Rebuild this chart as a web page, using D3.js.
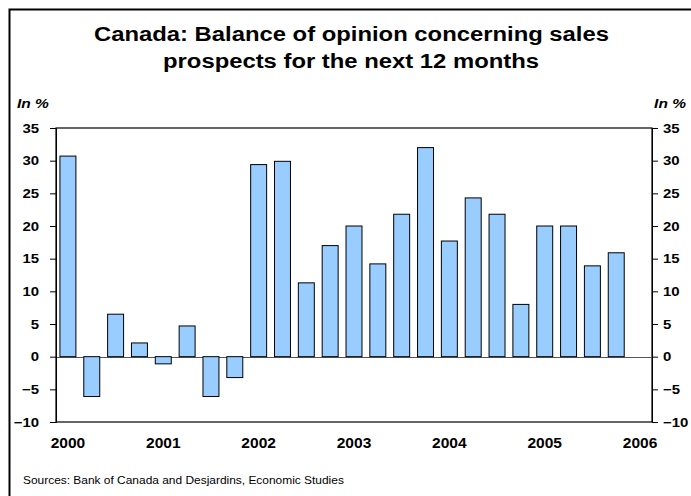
<!DOCTYPE html>
<html>
<head>
<meta charset="utf-8">
<script src="https://cdn.jsdelivr.net/npm/d3@7"></script>
<style>
  html, body { margin: 0; padding: 0; background: #fff; }
  svg { display: block; font-family: Arial, "Liberation Sans", sans-serif; }
</style>
</head>
<body>
<svg id="chart" width="691" height="496"></svg>
<script>
// Quarterly balance of opinion, 2000 Q1 to 2005 Q4 (the 2006 Q1 slot is left empty)
const quarters = [
  "2000Q1","2000Q2","2000Q3","2000Q4",
  "2001Q1","2001Q2","2001Q3","2001Q4",
  "2002Q1","2002Q2","2002Q3","2002Q4",
  "2003Q1","2003Q2","2003Q3","2003Q4",
  "2004Q1","2004Q2","2004Q3","2004Q4",
  "2005Q1","2005Q2","2005Q3","2005Q4",
  "2006Q1"
];
const balance = [
  30.7, -6.1, 6.5, 2.1,
  -1.1, 4.7, -6.1, -3.2,
  29.4, 29.9, 11.3, 17.0,
  20.0, 14.2, 21.8, 32.0,
  17.7, 24.3, 21.8, 8.0,
  20.0, 20.0, 13.9, 15.9
];
const yearLabels = ["2000","2001","2002","2003","2004","2005","2006"];
const yTicks = [-10, -5, 0, 5, 10, 15, 20, 25, 30, 35];

const svg = d3.select("#chart");
const plot = { left: 56, right: 652, top: 128, bottom: 422 };

// Widen a text element horizontally around its anchor x
function widen(sel, sx) {
  sel.each(function () {
    const t = d3.select(this);
    const ax = +t.attr("x") || 0;
    t.attr("transform", `translate(${ax},0) scale(${sx},1) translate(${-ax},0)`);
  });
}

// Outer frame
svg.append("rect")
  .attr("x", 9.5).attr("y", 9.5)
  .attr("width", 700).attr("height", 500)
  .attr("fill", "none").attr("stroke", "#000").attr("stroke-width", 2);

// Title
const title = svg.append("text")
  .attr("font-size", 20).attr("font-weight", "bold").attr("fill", "#000");
title.append("tspan").attr("x", 94).attr("y", 41)
  .attr("textLength", 515).attr("lengthAdjust", "spacingAndGlyphs")
  .text("Canada: Balance of opinion concerning sales");
title.append("tspan").attr("x", 163).attr("y", 68)
  .attr("textLength", 376).attr("lengthAdjust", "spacingAndGlyphs")
  .text("prospects for the next 12 months");

// Unit labels
svg.append("text").attr("x", 17).attr("y", 108)
  .attr("font-size", 13.5).attr("font-weight", "bold").attr("font-style", "italic")
  .text("In %").call(widen, 1.15);
svg.append("text").attr("x", 686).attr("y", 108).attr("text-anchor", "end")
  .attr("font-size", 13.5).attr("font-weight", "bold").attr("font-style", "italic")
  .text("In %").call(widen, 1.15);

const x = d3.scaleBand().domain(quarters).range([plot.left, plot.right]).paddingInner(0.33).paddingOuter(0.165);
const y = d3.scaleLinear().domain([-10, 35]).range([plot.bottom, plot.top]);

// Plot frame
svg.append("rect")
  .attr("x", plot.left).attr("y", plot.top)
  .attr("width", plot.right - plot.left).attr("height", plot.bottom - plot.top)
  .attr("fill", "#fff").attr("stroke", "#000").attr("stroke-width", 1.2);

// Zero line
svg.append("line")
  .attr("x1", plot.left).attr("x2", plot.right)
  .attr("y1", Math.round(y(0)) + 0.5).attr("y2", Math.round(y(0)) + 0.5)
  .attr("stroke", "#555").attr("stroke-width", 1);

// Bars
svg.append("g").selectAll("rect")
  .data(balance)
  .join("rect")
  .attr("x", (d, i) => x(quarters[i]))
  .attr("width", x.bandwidth())
  .attr("y", d => y(Math.max(0, d)))
  .attr("height", d => Math.abs(y(d) - y(0)))
  .attr("fill", "#99ccff")
  .attr("stroke", "#000").attr("stroke-width", 1);

// Y axes, left and right
const axisStyle = g => {
  g.select(".domain").attr("stroke", "#000");
  g.selectAll(".tick line").attr("stroke", "#000");
  g.selectAll(".tick text").attr("font-size", 13).attr("font-weight", "bold")
    .attr("fill", "#000").attr("font-family", "Arial, 'Liberation Sans', sans-serif")
    .call(widen, 1.15);
};
svg.append("g").attr("transform", `translate(${plot.left},0)`)
  .call(d3.axisLeft(y).tickValues(yTicks).tickSize(6).tickPadding(11).tickFormat(d3.format("d")))
  .call(axisStyle);
svg.append("g").attr("transform", `translate(${plot.right},0)`)
  .call(d3.axisRight(y).tickValues(yTicks).tickSize(6).tickPadding(5).tickFormat(d3.format("d")))
  .call(axisStyle);

// Year labels centred under each first quarter
svg.append("g").selectAll("text")
  .data(yearLabels)
  .join("text")
  .attr("x", d => x(d + "Q1") + x.bandwidth() / 2)
  .attr("y", 448)
  .attr("text-anchor", "middle")
  .attr("font-size", 14).attr("font-weight", "bold")
  .text(d => d)
  .call(widen, 1.11);

// Source
svg.append("text").attr("x", 23).attr("y", 484)
  .attr("font-size", 11).attr("fill", "#000")
  .text("Sources: Bank of Canada and Desjardins, Economic Studies")
  .call(widen, 1.085);
</script>
</body>
</html>
